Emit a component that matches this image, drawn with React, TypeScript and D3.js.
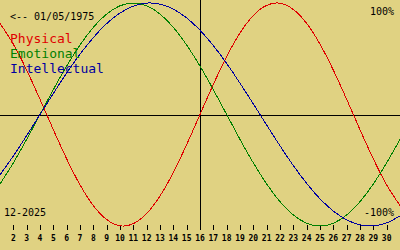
import React, { useEffect } from "react";
import * as d3 from "d3";

const days = d3.range(1, 32);
const tickDays = d3.range(2, 31);
const physical = [81.7, 63.1, 39.8, 13.6, -13.6, -39.8, -63.1, -81.7, -94.2, -99.8, -97.9, -88.8, -73.1, -52.0, -27.0, 0, 27.0, 52.0, 73.1, 88.8, 97.9, 99.8, 94.2, 81.7, 63.1, 39.8, 13.6, -13.6, -39.8, -63.1, -81.7];
const emotional = [-62.3, -43.4, -22.3, 0, 22.3, 43.4, 62.3, 78.2, 90.1, 97.5, 100, 97.5, 90.1, 78.2, 62.3, 43.4, 22.3, 0, -22.3, -43.4, -62.3, -78.2, -90.1, -97.5, -100, -97.5, -90.1, -78.2, -62.3, -43.4, -22.3];
const intellectual = [-54.1, -37.2, -18.9, 0, 18.9, 37.2, 54.1, 69.0, 81.5, 91.0, 97.2, 99.9, 99.0, 94.5, 86.6, 75.6, 61.8, 45.8, 28.1, 9.5, -9.5, -28.1, -45.8, -61.8, -75.6, -86.6, -94.5, -99.0, -99.9, -97.2, -91.0];
const seriesNames = ["Physical", "Emotional", "Intellectual"];
const seriesColors = ["#e00000", "#008000", "#0000a0"];
const birthLabel = "<-- 01/05/1975";
const monthLabel = "12-2025";
const topLabel = "100%";
const bottomLabel = "-100%";
const todayDay = 16;

const W = 400;
const H = 250;
const mono = "'DejaVu Sans Mono', monospace";

export default function App() {
  useEffect(() => {
    document.body.style.margin = "0";
  }, []);
  const x = d3.scaleLinear().domain([1, 31]).range([0, W]);
  const y = d3.scaleLinear().domain([-100, 100]).range([226, 3]);
  const line = d3
    .line<number>()
    .x((_, i) => x(days[i]))
    .y((v) => y(v))
    .curve(d3.curveNatural);
  const all = [physical, emotional, intellectual];
  const y0 = Math.round(y(0)) + 0.5;
  const xToday = Math.round(x(todayDay)) + 0.5;
  return (
    <svg width={W} height={H} style={{ position: "absolute", left: 0, top: 0, display: "block" }}>
      <rect x={0} y={0} width={W} height={H} fill="#e0d282" />
      <line x1={0} x2={W} y1={y0} y2={y0} stroke="#000" strokeWidth={1} shapeRendering="crispEdges" />
      <line x1={xToday} x2={xToday} y1={0} y2={230} stroke="#000" strokeWidth={1} shapeRendering="crispEdges" />
      {tickDays.map((d) => (
        <g key={d}>
          <line x1={Math.round(x(d)) + 0.5} x2={Math.round(x(d)) + 0.5} y1={225} y2={230} stroke="#000" strokeWidth={1} shapeRendering="crispEdges" />
          <text x={x(d)} y={241} textAnchor="middle" fontFamily={mono} fontSize={8} fontWeight="bold" fill="#000">{d}</text>
        </g>
      ))}
      {all.map((s, i) => (
        <path key={i} d={line(s) || ""} fill="none" stroke={seriesColors[i]} strokeWidth={1} shapeRendering="crispEdges" />
      ))}
      <text x={10} y={20} fontFamily={mono} fontSize={10} fill="#000">{birthLabel}</text>
      {seriesNames.map((n, i) => (
        <text key={n} x={10} y={43 + i * 15} fontFamily={mono} fontSize={13} fill={seriesColors[i]}>{n}</text>
      ))}
      <text x={394} y={15} textAnchor="end" fontFamily={mono} fontSize={10} fill="#000">{topLabel}</text>
      <text x={394} y={216} textAnchor="end" fontFamily={mono} fontSize={10} fill="#000">{bottomLabel}</text>
      <text x={4} y={216} fontFamily={mono} fontSize={10} fill="#000">{monthLabel}</text>
    </svg>
  );
}
